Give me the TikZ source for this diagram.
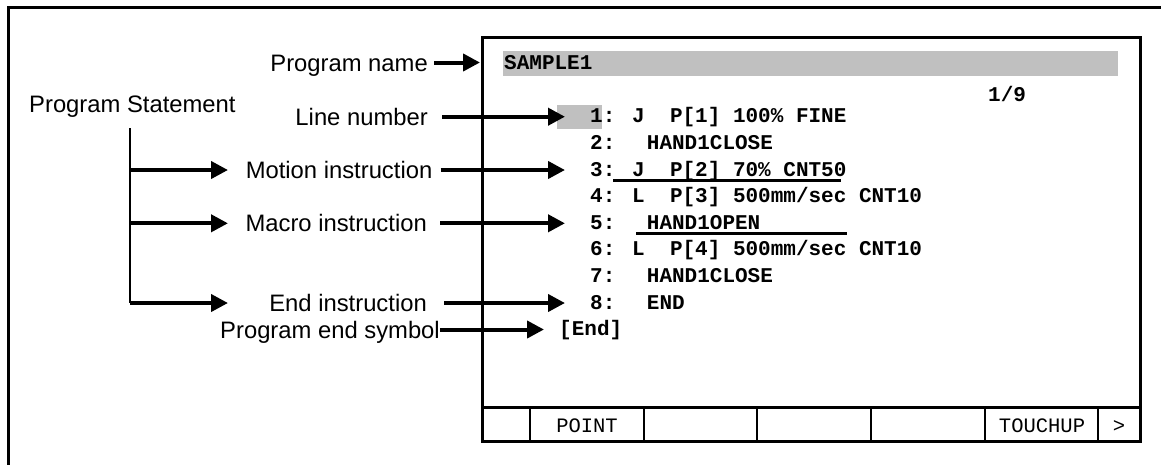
\documentclass[tikz,border=0pt]{standalone}
\usepackage{fontspec}
\setmainfont{Liberation Sans}
\newfontfamily\codefont{Liberation Mono}
\usetikzlibrary{arrows.meta}
\definecolor{hl}{RGB}{192,192,192}
\begin{document}
\begin{tikzpicture}[x=1pt,y=-1pt,
  lbl/.style={anchor=east,inner sep=0pt,text height=17pt,text depth=0pt,font=\fontsize{23.8}{28}\selectfont},
  code/.style={anchor=base west,inner sep=0pt,font=\codefont\bfseries\fontsize{21}{25}\selectfont},
  key/.style={anchor=base,inner sep=0pt,font=\codefont\fontsize{20.5}{24}\selectfont},
  arr/.style={line width=4pt,-{Triangle[length=17pt,width=17pt]}},
  frame/.style={line width=3pt},
  thinline/.style={line width=1.6pt},
  uline/.style={line width=3pt},
]
\useasboundingbox (0,0) rectangle (1161,464);
% outer frame (left and top)
\draw[frame] (8,466) -- (8,7) -- (1163,7);
% screen
\fill[hl] (503,51) rectangle (1118,76);
\fill[hl] (557,105) rectangle (602,129);
\draw[frame] (482,37) rectangle (1140,441);
\draw[frame] (482,407) -- (1140,407);
\foreach \x in {530,644,757,871,985,1098} \draw[thinline] (\x,407) -- (\x,441);
% softkey labels
\node[key] (kpoint) at (587,432.5) {POINT};
\node[key] (ktouch) at (1042,432.5) {TOUCHUP};
\node[key] (kmore) at (1119,432.5) {>};
% code text
\node[code] (sample) at (504,69.3) {SAMPLE1};
\node[code] (page) at (988,101) {1/9};
\node[code] (c1) at (590,122.7) {1: J~~P[1] 100\% FINE};
\node[code] (c2) at (590,149.3) {2:\hskip31.5pt HAND1CLOSE};
\node[code] (c3) at (590,176.0) {3: J~~P[2] 70\% CNT50};
\node[code] (c4) at (590,202.6) {4: L~~P[3] 500mm/sec CNT10};
\node[code] (c5) at (590,229.3) {5:\hskip31.5pt HAND1OPEN};
\node[code] (c6) at (590,255.9) {6: L~~P[4] 500mm/sec CNT10};
\node[code] (c7) at (590,282.6) {7:\hskip31.5pt HAND1CLOSE};
\node[code] (c8) at (590,309.2) {8:\hskip31.5pt END};
\node[code] (cend) at (559,335.9) {[End]};
% underlines
\draw[uline] (613,180) -- (841,180);
\draw[uline] (636,233.5) -- (847,233.5);
% labels
\node[lbl] (pname) at (428,62.5) {Program name};
\node[lbl,anchor=west] (pstat) at (29,104) {Program Statement};
\node[lbl] (lnum) at (428,116.7) {Line number};
\node[lbl] (motion) at (432.5,170) {Motion instruction};
\node[lbl] (macro) at (427,223.3) {Macro instruction};
\node[lbl] (endi) at (427,303) {End instruction};
\node[lbl] (pend) at (440,329.5) {Program end symbol};
% arrow tips
\coordinate (tname) at (480,62.5);
\coordinate (t1) at (565,116.7);
\coordinate (t3) at (565,170);
\coordinate (t5) at (565,223.3);
\coordinate (t8) at (565,303);
\coordinate (tend) at (544,329.5);
\draw[arr] ([xshift=6pt]pname.east) -- (tname);
\draw[arr] ([xshift=14pt]lnum.east) -- (t1);
\draw[arr] ([xshift=8pt]motion.east) -- (t3);
\draw[arr] ([xshift=13pt]macro.east) -- (t5);
\draw[arr] ([xshift=17pt]endi.east) -- (t8);
\draw[arr] (pend.east) -- (tend);
% bracket
\coordinate (btop) at (130,128);
\coordinate (b3) at (130,170);
\coordinate (b5) at (130,223.3);
\coordinate (b8) at (130,303);
\coordinate (bt3) at (228,170);
\coordinate (bt5) at (228,223.3);
\coordinate (bt8) at (228,303);
\draw[thinline] (btop) -- (b8);
\draw[arr] (b3) -- (bt3);
\draw[arr] (b5) -- (bt5);
\draw[arr] (b8) -- (bt8);
\end{tikzpicture}
\end{document}
